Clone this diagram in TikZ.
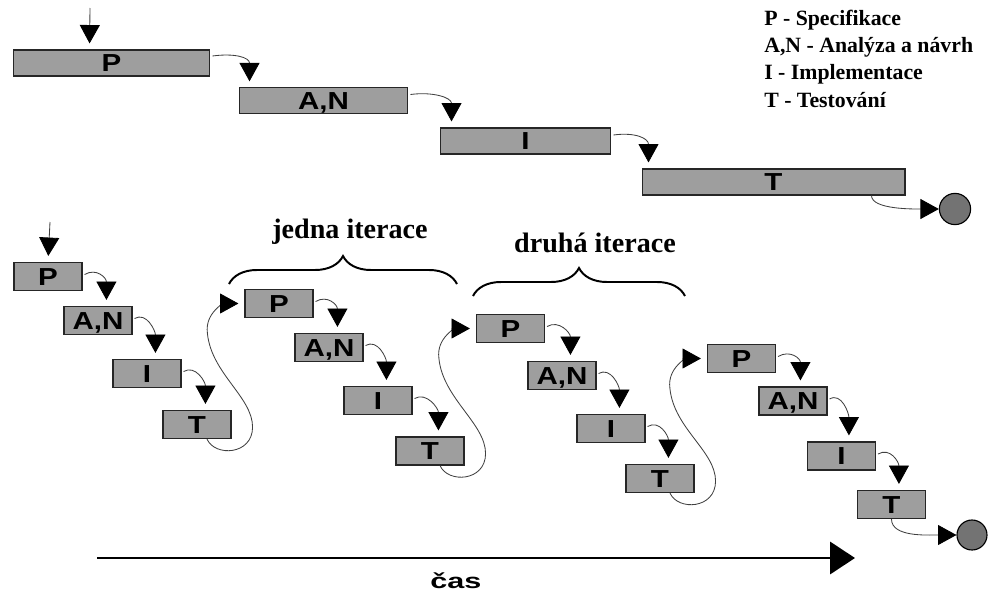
\documentclass[tikz,border=0pt]{standalone}
\usepackage{graphicx}
\usepackage{fontspec}
\setmainfont{Liberation Serif}
\newfontfamily\boxfont{Liberation Sans}
\usetikzlibrary{calc,arrows.meta,decorations.pathreplacing}
\def\wide#1{\scalebox{1.2}[1]{#1}}

\tikzset{
	phase/.style={draw=black!85, line width=0.8pt, fill=black!38, inner sep=0pt,
		text height=12.6pt, text depth=0pt,
		font=\boxfont\fontsize{17.5}{17.5}\selectfont\bfseries},
	small/.style={phase, minimum width=1.7cm, minimum height=0.7cm},
	flow/.style={draw=black!75, line width=0.6pt, shorten >=0.15cm,
		-{Triangle[length=0.46cm,width=0.5cm,color=black]}},
	done/.style={circle, draw=black, line width=0.8pt, fill=black!55,
		minimum width=0.75cm, minimum height=0.68cm, inner sep=0pt},
	itbrace/.style={decorate, decoration={brace, amplitude=0.7cm}, line width=1.4pt},
	itlabel/.style={font=\fontsize{20}{20}\selectfont\bfseries}
}

\begin{document}
\begin{tikzpicture}[x=0.025cm, y=-0.025cm]
		%%%%% START %%%%%
		\useasboundingbox (0, 0) rectangle (989, 593);
		
		%%%%% vodopad %%%%%
		\coordinate (wstart) at (90, 8);
		\node[phase, minimum width=4.92cm, minimum height=0.65cm] (wp) at (111.5, 63) {\wide{P}};
		\node[phase, minimum width=4.22cm, minimum height=0.63cm] (wan) at (323.5, 100.5) {\wide{A,N}};
		\node[phase, minimum width=4.27cm, minimum height=0.65cm] (wi) at (525.5, 141) {\wide{I}};
		\node[phase, minimum width=6.57cm, minimum height=0.65cm] (wt) at (773.5, 182) {\wide{T}};
		\node[done, minimum width=0.78cm] (wend) at (955, 209) {};
		
		\draw[flow] (wstart) -- ($(wp.north west)+(77, 0)$);
		\draw[flow] ($(wp.east)+(2, -7)$) .. controls +(22, -3) and +(0, -30) .. ($(wan.north west)+(11, 0)$);
		\draw[flow] ($(wan.east)+(2, -6)$) .. controls +(22, -3) and +(0, -30) .. ($(wi.north west)+(12, 0)$);
		\draw[flow] ($(wi.east)+(2, -6)$) .. controls +(22, -3) and +(0, -30) .. ($(wt.north west)+(7, 0)$);
		\draw[flow, shorten >=0pt] ($(wt.south east)+(-34, 0)$) .. controls +(0, 14) and +(-25, 0) .. (wend.west);
		
		\node[anchor=north west, align=left, inner sep=0pt,
			font=\fontsize{15.5}{19.3}\selectfont\bfseries] (legend) at (764, 10)
			{P - Specifikace\\A,N - Analýza a návrh\\I - Implementace\\T - Testování};
		
		%%%%% iterace %%%%%
		\coordinate (start) at (50, 222);
		
		\node[small] (p1) at (48, 276.5) {\wide{P}};
		\node[small] (an1) at (98, 320.5) {\wide{A,N}};
		\node[small] (i1) at (147, 373.5) {\wide{I}};
		\node[small] (t1) at (197, 424.5) {\wide{T}};
		
		\node[small] (p2) at (279, 303.5) {\wide{P}};
		\node[small] (an2) at (329, 347.5) {\wide{A,N}};
		\node[small] (i2) at (378, 400.5) {\wide{I}};
		\node[small] (t2) at (430, 451) {\wide{T}};
		
		\node[small] (p3) at (510.5, 328.5) {\wide{P}};
		\node[small] (an3) at (562, 375.5) {\wide{A,N}};
		\node[small] (i3) at (611, 428.5) {\wide{I}};
		\node[small] (t3) at (660, 478.5) {\wide{T}};
		
		\node[small] (p4) at (741.5, 358.5) {\wide{P}};
		\node[small] (an4) at (793, 401) {\wide{A,N}};
		\node[small] (i4) at (841.5, 456) {\wide{I}};
		\node[small] (t4) at (891.5, 504.5) {\wide{T}};
		
		\node[done] (end) at (972, 535) {};
		
		\draw[flow] (start) -- (p1.north);
		
		\draw[flow] ($(p1.east)+(2, -2)$) .. controls +(12, -7) and +(0, -28) .. ($(an1.north west)+(43, 0)$);
		\draw[flow] ($(an1.east)+(2, -2)$) .. controls +(12, -7) and +(0, -28) .. ($(i1.north west)+(43, 0)$);
		\draw[flow] ($(i1.east)+(2, -2)$) .. controls +(12, -7) and +(0, -28) .. ($(t1.north west)+(43, 0)$);
		
		\draw[flow] ($(p2.east)+(2, -2)$) .. controls +(12, -7) and +(0, -28) .. ($(an2.north west)+(43, 0)$);
		\draw[flow] ($(an2.east)+(2, -2)$) .. controls +(12, -7) and +(0, -28) .. ($(i2.north west)+(43, 0)$);
		\draw[flow] ($(i2.east)+(2, -2)$) .. controls +(12, -7) and +(0, -28) .. ($(t2.north west)+(43, 0)$);
		
		\draw[flow] ($(p3.east)+(2, -2)$) .. controls +(12, -7) and +(0, -28) .. ($(an3.north west)+(43, 0)$);
		\draw[flow] ($(an3.east)+(2, -2)$) .. controls +(12, -7) and +(0, -28) .. ($(i3.north west)+(43, 0)$);
		\draw[flow] ($(i3.east)+(2, -2)$) .. controls +(12, -7) and +(0, -28) .. ($(t3.north west)+(43, 0)$);
		
		\draw[flow] ($(p4.east)+(2, -2)$) .. controls +(12, -7) and +(0, -28) .. ($(an4.north west)+(42, 0)$);
		\draw[flow] ($(an4.east)+(2, -2)$) .. controls +(12, -7) and +(0, -28) .. ($(i4.north west)+(42, 0)$);
		\draw[flow] ($(i4.east)+(2, -2)$) .. controls +(12, -7) and +(0, -28) .. ($(t4.north west)+(42, 0)$);
		
		% navrat na dalsi iteraci
		\draw[flow] ($(t1.south)+(10, 0)$) .. controls +(8, 18) and +(0, 28) .. ($(t1.south east)+(21, -12)$)
			.. controls +(0, -30) and +(4, 40) .. ($(p2.west)+(-37, 30)$)
			.. controls +(-3, -22) and +(-18, 0) .. (p2.west);
		\draw[flow] ($(t2.south)+(10, 0)$) .. controls +(8, 18) and +(0, 28) .. ($(t2.south east)+(21, -12)$)
			.. controls +(0, -30) and +(4, 40) .. ($(p3.west)+(-37, 30)$)
			.. controls +(-3, -22) and +(-18, 0) .. (p3.west);
		\draw[flow] ($(t3.south)+(10, 0)$) .. controls +(8, 18) and +(0, 28) .. ($(t3.south east)+(21, -12)$)
			.. controls +(0, -30) and +(4, 40) .. ($(p4.west)+(-37, 30)$)
			.. controls +(-3, -22) and +(-18, 0) .. (p4.west);
		
		\draw[flow, shorten >=0pt] (t4.south) .. controls +(0, 18) and +(-30, 0) .. (end.west);
		
		%%%%% slozene zavorky %%%%%
		\draw[itbrace] (229, 284) -- (457, 284);
		\node[itlabel] (jedna) at (350, 232) {jedna iterace};
		\draw[itbrace] (473, 296) -- (685, 296);
		\node[itlabel] (druha) at (595, 243) {druhá iterace};
		
		%%%%% cas %%%%%
		\coordinate (t0) at (97, 558);
		\coordinate (t9) at (855, 558);
		\draw[line width=2pt, -{Triangle[length=0.62cm,width=0.8cm]}] (t0) -- (t9);
		\node[font=\boxfont\fontsize{15}{15}\selectfont\bfseries] (cas) at (456, 581) {\scalebox{1.45}[1]{čas}};
		
		%%%%% END %%%%%
	\end{tikzpicture}
\end{document}
